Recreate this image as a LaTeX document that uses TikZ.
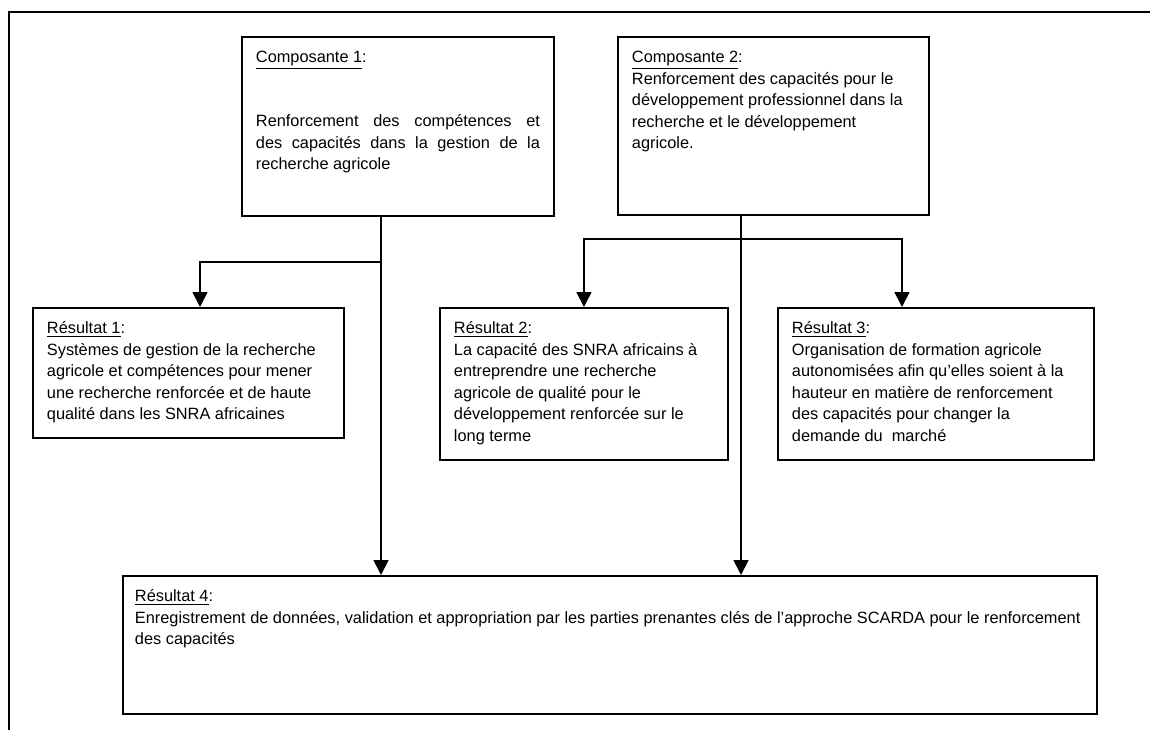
\documentclass[tikz,border=0pt]{standalone}
\usepackage{fontspec}
\setmainfont{Liberation Sans}
\usetikzlibrary{arrows.meta,positioning}

\newlength{\px}
\setlength{\px}{0.02cm}
% box of #1 x #2 px, text kept at the top
\newcommand{\boxtext}[3]{\parbox[t][\dimexpr#2\px-22\px\relax][t]{\dimexpr#1\px-28\px\relax}{#3}}
\newcommand{\ttl}[1]{\strut\underline{#1}:}

\begin{document}
\begin{tikzpicture}[
    x=0.02cm, y=-0.02cm,
    box/.style={rectangle, draw, line width=1.1pt, anchor=north west,
      inner xsep=14\px, inner ysep=11\px, font=\fontsize{9.3}{12.2}\selectfont},
    arr/.style={-{Triangle[length=0.3cm, width=0.3cm]}, line width=1pt},
  ]
    \useasboundingbox (0,0) rectangle (1150,730);
    % Frame
    \draw[line width=1.1pt] (9,730) |- (1150,12);

    % Nodes
    \node[box] (c1) at (241,36) {\boxtext{312}{179}{\ttl{Composante 1}\\[24pt]
      Renforcement des compétences et\linebreak des capacités dans la gestion de la\linebreak recherche agricole}};
    \node[box] (c2) at (617,36) {\boxtext{311}{178}{\raggedright\ttl{Composante 2}\\
      Renforcement des capacités pour le\\ développement professionnel dans la\\
      recherche et le développement\\ agricole.}};
    \node[box] (r1) at (32,307) {\boxtext{311}{130}{\raggedright\ttl{Résultat 1}\\
      Systèmes de gestion de la recherche\\ agricole et compétences pour mener\\
      une recherche renforcée et de haute\\ qualité dans les SNRA africaines}};
    \node[box] (r2) at (439,307) {\boxtext{288}{152}{\raggedright\ttl{Résultat 2}\\
      La capacité des SNRA africains à\\ entreprendre une recherche\\
      agricole de qualité pour le\\ développement renforcée sur le\\ long terme}};
    \node[box] (r3) at (777,307) {\boxtext{316}{152}{\raggedright\ttl{Résultat 3}\\
      Organisation de formation agricole\\ autonomisées afin qu’elles soient à la\\
      hauteur en matière de renforcement\\ des capacités pour changer la\\ demande du\ \ marché}};
    \node[box, inner xsep=12\px] (r4) at (122,575) {\boxtext{978}{138}{\raggedright\ttl{Résultat 4}\\
      Enregistrement de données, validation et appropriation par les parties prenantes clés de l’approche SCARDA pour le renforcement\\ des capacités}};

    % Junctions
    \coordinate (k1) at (381,262);
    \coordinate (k2) at (741,239);
    \coordinate (t1) at (200,0);
    \coordinate (t3) at (902,0);

    % Arrows
    \draw[arr] (k1 |- c1.south) -- (k1 |- r4.north);
    \draw[arr] (k1) -| (t1 |- r1.north);
    \draw[arr] (k2 |- c2.south) -- (k2 |- r4.north);
    \draw[arr] (k2) -| (r2.north);
    \draw[arr] (k2) -| (t3 |- r3.north);
\end{tikzpicture}
\end{document}
